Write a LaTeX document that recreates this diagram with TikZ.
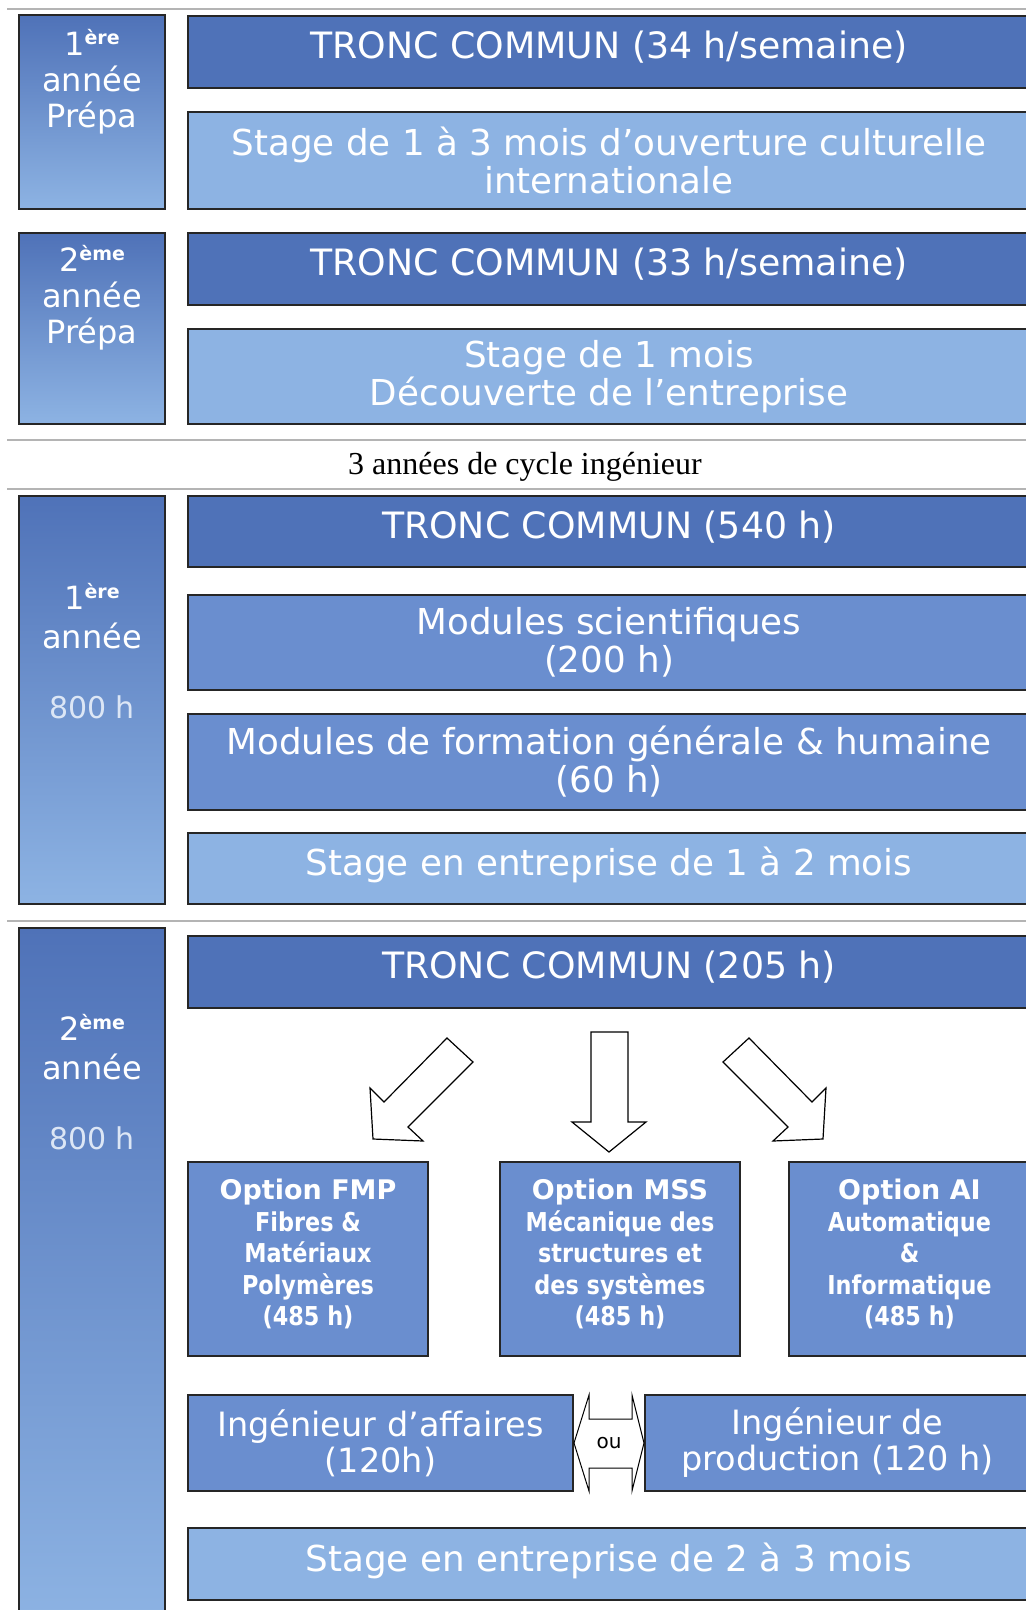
\documentclass[tikz,border=0pt]{standalone}
\usepackage{fontspec}
\setmainfont{DejaVu Sans}
\newfontfamily\titlefont{Liberation Serif}
\newfontfamily\optfont{DejaVu Sans}[FakeStretch=0.86]
\usepackage{tikz}
\usetikzlibrary{positioning}
\definecolor{darkbar}{HTML}{4F72B8}
\definecolor{lightbar}{HTML}{8DB3E3}
\definecolor{midbar}{HTML}{6A8ECF}
\definecolor{hourtxt}{HTML}{DCE6F5}
\definecolor{rulegray}{HTML}{B4B4B4}
\newcommand{\yr}[1]{\raisebox{11pt}{\bfseries\fontsize{19}{19}\selectfont #1}}
\newcommand{\opthead}[1]{{\normalfont\bfseries\fontsize{27}{34}\selectfont #1}}

\tikzset{
  bar/.style={draw=black!85, line width=1.5pt, text=white, minimum width=842, align=center, font=\fontsize{35.7}{38}\selectfont},
  oneline/.style={text depth=14pt},
  tronc/.style={bar, oneline, fill=darkbar, font=\fontsize{36.3}{38}\selectfont},
  stagebox/.style={bar, fill=lightbar},
  modbox/.style={bar, fill=midbar},
  yearbox/.style={draw=black!85, line width=1.5pt, top color=darkbar, bottom color=lightbar, minimum width=146},
  yearlbl/.style={text=white, align=center, font=\fontsize{32}{36}\selectfont},
  hours/.style={text=hourtxt, font=\fontsize{30}{30}\selectfont},
  optbox/.style={draw=black!85, line width=1.5pt, fill=midbar, text=white, align=center, minimum height=194, text depth=13pt, font=\optfont\bfseries\fontsize{26}{31.5}\selectfont},
  ingbox/.style={draw=black!85, line width=1.5pt, fill=midbar, text=white, align=center, minimum width=385, minimum height=96, font=\fontsize{33.5}{36}\selectfont},
  blockarrow/.style={draw=black, line width=1.2pt, fill=white, line join=miter},
  sepline/.style={rulegray, line width=2pt},
}

\begin{document}
\begin{tikzpicture}[x=1pt,y=-1pt]
    \useasboundingbox (0,0) rectangle (1026,1610);
    \clip (0,0) rectangle (1026,1610);
    \fill[white] (0,0) rectangle (1026,1610);
    \draw[sepline] (7,9) -- (1030,9);
    \draw[sepline] (7,440) -- (1030,440);
    \draw[sepline] (7,489) -- (1030,489);
    \draw[sepline] (7,921) -- (1030,921);

    % Prepa
    \node[yearbox, minimum height=194] (y1) at (92,112) {};
    \node[yearlbl] (y1t) at (92,82) {1\yr{ère}\\année\\Prépa};
    \node[tronc, minimum height=72] (tc1) at (609,52) {TRONC COMMUN (34 h/semaine)};
    \node[stagebox, minimum height=97] (st1) at (609,160.5) {Stage de 1 à 3 mois d’ouverture culturelle\\internationale};

    \node[yearbox, minimum height=191] (y2) at (92,328.5) {};
    \node[yearlbl] (y2t) at (92,298) {2\yr{ème}\\année\\Prépa};
    \node[tronc, minimum height=72] (tc2) at (609,269) {TRONC COMMUN (33 h/semaine)};
    \node[stagebox, minimum height=95] (st2) at (609,376.5) {Stage de 1 mois\\Découverte de l’entreprise};

    \node[font=\titlefont\fontsize{32}{32}\selectfont] (cycle) at (525,467) {3 années de cycle ingénieur};

    % Cycle ingenieur, 1ere annee
    \node[yearbox, minimum height=408] (y3) at (92,700) {};
    \node[yearlbl, font=\fontsize{32}{39}\selectfont] (y3t) at (92,616) {1\yr{ère}\\année};
    \node[hours] (y3h) at (92,707) {800 h};
    \node[tronc, minimum height=71] (tc3) at (609,531.5) {TRONC COMMUN (540 h)};
    \node[modbox, minimum height=95] (ms) at (609,642.5) {Modules scientifiques\\(200 h)};
    \node[modbox, minimum height=96] (mg) at (609,762) {Modules de formation générale \& humaine\\(60 h)};
    \node[stagebox, oneline, minimum height=71] (st3) at (609,868.5) {Stage en entreprise de 1 à 2 mois};

    % 2eme annee
    \node[yearbox, minimum height=697] (y4) at (92,1276.5) {};
    \node[yearlbl, font=\fontsize{32}{39}\selectfont] (y4t) at (92,1047) {2\yr{ème}\\année};
    \node[hours] (y4h) at (92,1138) {800 h};
    \node[tronc, minimum height=72] (tc4) at (609,972) {TRONC COMMUN (205 h)};

    \draw[blockarrow] (447,1038) -- (473,1062) -- (408,1127) -- (423,1141) -- (373,1139)
        -- (370,1088) -- (384,1102) -- cycle;
    \draw[blockarrow] (591,1032) -- (628,1032) -- (628,1122) -- (646,1122) -- (609,1152)
        -- (572,1122) -- (591,1122) -- cycle;
    \draw[blockarrow] (749,1038) -- (723,1062) -- (788,1127) -- (773,1141) -- (823,1139)
        -- (826,1088) -- (812,1102) -- cycle;

    \node[optbox, minimum width=240] (fmp) at (308,1259) {\opthead{Option FMP}\\Fibres \&\\Matériaux\\Polymères\\(485 h)};
    \node[optbox, minimum width=240] (mss) at (620,1259) {\opthead{Option MSS}\\Mécanique des\\structures et\\des systèmes\\(485 h)};
    \node[optbox, minimum width=241] (ai) at (909.5,1259) {\opthead{Option AI}\\Automatique\\\&\\Informatique\\(485 h)};

    \node[ingbox] (inga) at (380.5,1443) {Ingénieur d’affaires\\(120h)};
    \node[ingbox] (ingp) at (837.5,1443) {Ingénieur de\\production (120 h)};
    \draw[blockarrow, line width=1pt] (574,1443) -- (589,1395) -- (589,1419) -- (632,1419) -- (632,1395)
        -- (644,1443) -- (632,1491) -- (632,1468) -- (589,1468) -- (589,1491) -- cycle;
    \node[font=\fontsize{20}{20}\selectfont] (ou) at (609,1443) {ou};

    \node[stagebox, oneline, minimum height=72] (st4) at (609,1564) {Stage en entreprise de 2 à 3 mois};
\end{tikzpicture}
\end{document}
